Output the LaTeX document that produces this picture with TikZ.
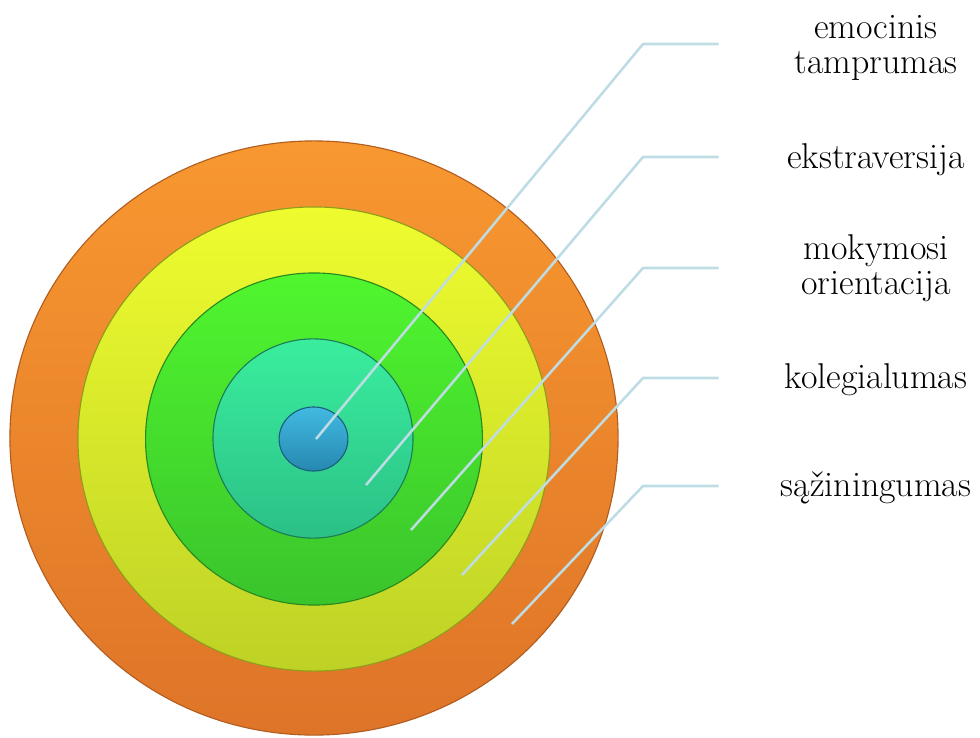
\documentclass[tikz,border=0pt]{standalone}
\usepackage{tikz}
\usetikzlibrary{positioning}
\definecolor{arancioSu}{RGB}{248, 152, 48}
\definecolor{arancioGiu}{RGB}{222, 116, 40}
\definecolor{gialloSu}{RGB}{238, 252, 46}
\definecolor{gialloGiu}{RGB}{190, 210, 38}
\definecolor{verdeSu}{RGB}{80, 246, 46}
\definecolor{verdeGiu}{RGB}{58, 196, 44}
\definecolor{tealSu}{RGB}{58, 238, 158}
\definecolor{tealGiu}{RGB}{43, 192, 134}
\definecolor{bluSu}{RGB}{66, 186, 226}
\definecolor{bluGiu}{RGB}{38, 136, 176}
\definecolor{grigioLinea}{RGB}{189, 220, 228}

\tikzset{
  ring/.style={line width=0.8pt},
  leader/.style={draw=grigioLinea, line width=1.8pt, line join=round},
  etichetta/.style={text width=7.85cm, align=center, inner sep=0pt,
    font=\fontsize{25.5}{25}\selectfont}
}

\begin{document}
\begin{tikzpicture}[x=0.025cm, y=-0.025cm]
                \useasboundingbox (0,0) rectangle (980,737);

                % Rings (outer to inner)
                \shade[ring, top color=arancioSu, bottom color=arancioGiu, draw=arancioGiu!80!black]
                    (314,438) ellipse [x radius=7.6cm, y radius=7.425cm];
                \shade[ring, top color=gialloSu, bottom color=gialloGiu, draw=gialloGiu!75!black]
                    (314,439) ellipse [x radius=5.9cm, y radius=5.8cm];
                \shade[ring, top color=verdeSu, bottom color=verdeGiu, draw=verdeGiu!70!black]
                    (314,439) ellipse [x radius=4.21cm, y radius=4.15cm];
                \shade[ring, top color=tealSu, bottom color=tealGiu, draw=tealGiu!65!black]
                    (313,438.5) ellipse [x radius=2.5cm, y radius=2.49cm];
                \shade[ring, top color=bluSu, bottom color=bluGiu, draw=bluGiu!70!black]
                    (313.5,439) ellipse [x radius=0.86cm, y radius=0.8cm];

                % Labels
                \node[etichetta] (emo) at (876,48) {emocinis\\tamprumas};
                \node[etichetta] (eks) at (876,160) {ekstraversija};
                \node[etichetta] (mok) at (876,268) {mokymosi\\orientacija};
                \node[etichetta] (kol) at (876,380) {kolegialumas};
                \node[etichetta] (saz) at (876,488) {sąžiningumas};

                % Leader points
                \coordinate (pEmo) at (316,439);
                \coordinate (pEks) at (366,485);
                \coordinate (pMok) at (411,530);
                \coordinate (pKol) at (462,575);
                \coordinate (pSaz) at (512,624);

                \draw[leader] (pEmo) -- (643,44) -- (emo.west |- 0,44);
                \draw[leader] (pEks) -- (643,157) -- (eks.west |- 0,157);
                \draw[leader] (pMok) -- (643,268) -- (mok.west |- 0,268);
                \draw[leader] (pKol) -- (643,378) -- (kol.west |- 0,378);
                \draw[leader] (pSaz) -- (643,486) -- (saz.west |- 0,486);
            \end{tikzpicture}
\end{document}
